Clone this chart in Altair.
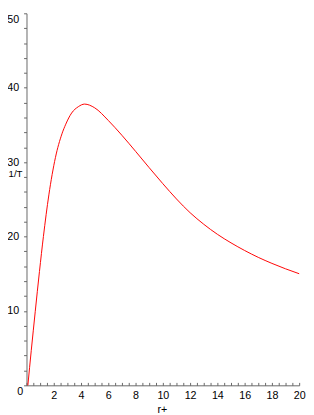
import altair as alt
import pandas as pd

# values
r_plus = [0.1, 0.35, 0.64, 0.95, 1.24, 1.64, 2.12, 2.6, 2.88, 3.31, 3.8, 4.26,
          5.0, 6.0, 7.0, 8.0, 9.0, 10.0, 11.0, 12.0, 13.0, 14.0, 15.0, 16.0,
          17.0, 18.0, 19.0, 20.0]
inv_T = [0.0, 4.7, 9.9, 15.3, 20.0, 25.6, 30.6, 33.8, 35.1, 36.6, 37.45, 37.8,
         37.3, 35.6, 33.6, 31.45, 29.25, 27.1, 25.05, 23.2, 21.65, 20.3, 19.15,
         18.12, 17.2, 16.39, 15.66, 15.0]

x_tick_values = [i * 0.5 for i in range(41)]
y_tick_values = list(range(0, 51, 2))

W, H = 280, 382
FONT = "Liberation Sans"

df = pd.DataFrame({"r": r_plus, "T": inv_T})
base = alt.Chart(df)

x_scale = alt.Scale(domain=[0, 20], nice=False, zero=False)
y_scale = alt.Scale(domain=[0, 50], nice=False)

line = base.mark_line(color="#ff0000", strokeWidth=1, interpolate="monotone").encode(
    x=alt.X(
        "r:Q",
        scale=x_scale,
        axis=alt.Axis(
            values=x_tick_values,
            format="d",
            labelExpr="(datum.value % 2 == 0 && datum.value > 0) ? datum.label : ''",
            ticks=False,
            grid=False,
            labelFlush=False,
            labelOverlap=False,
            labelPadding=5,
            labelFont=FONT,
            labelFontSize=11,
            labelColor="#000000",
            domainColor="#666666",
            title="r+",
            titleFont=FONT,
            titleFontSize=11,
            titleFontWeight="normal",
            titleColor="#000000",
            titleX=139,
            titleY=19,
            titleAlign="center",
            titleBaseline="top",
        ),
    ),
    y=alt.Y(
        "T:Q",
        scale=y_scale,
        axis=alt.Axis(
            values=y_tick_values,
            format="d",
            labelExpr="datum.value % 10 == 0 ? datum.label : ''",
            tickSize=3,
            tickColor="#666666",
            grid=False,
            labelFlush=False,
            labelOverlap=False,
            labelPadding={"condition": {"test": "datum.value == 0", "value": 1}, "value": 5},
            labelBaseline={"condition": {"test": "datum.value == 0 || datum.value == 50", "value": "top"}, "value": "middle"},
            labelFont=FONT,
            labelFontSize=11,
            labelColor="#000000",
            domainColor="#666666",
            title="1/T",
            titleFont=FONT,
            titleFontSize=10,
            titleFontWeight="normal",
            titleColor="#000000",
            titleAngle=0,
            titleX=-19,
            titleY=165,
            titleAlign="left",
            titleBaseline="middle",
        ),
    ),
)

tick_layer = base.mark_line(opacity=0).encode(
    x=alt.X(
        "r:Q",
        scale=x_scale,
        axis=alt.Axis(
            orient="top",
            offset=-H,
            values=x_tick_values,
            labels=False,
            domain=False,
            grid=False,
            tickSize=3,
            tickColor="#666666",
            title=None,
        ),
    ),
)

chart = (
    alt.layer(line, tick_layer)
    .resolve_axis(x="independent")
    .properties(
        width=W,
        height=H,
        autosize="none",
        padding={"left": 19, "top": 0, "right": 7, "bottom": 25},
        background="white",
    )
    .configure_view(stroke=None)
)

chart.save("out.html", embed_options={"renderer": "svg", "actions": False})
